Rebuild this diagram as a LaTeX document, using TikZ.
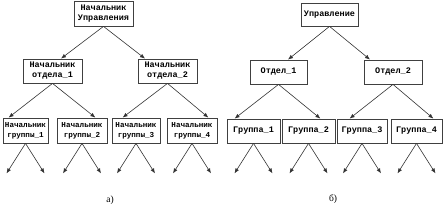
\documentclass[tikz,border=0pt]{standalone}
\usepackage{fontspec}
\setmainfont{Liberation Serif}
\newfontfamily\boxfont[BoldFont={Liberation Mono Bold}]{Liberation Mono}
\usetikzlibrary{arrows.meta}

\tikzset{
  unit/.style={draw=black!75, fill=white, line width=0.8pt, align=center,
    inner sep=1pt, font=\boxfont\bfseries\fontsize{8.5}{10}\selectfont},
  small/.style={font=\boxfont\bfseries\fontsize{7.6}{10}\selectfont},
  link/.style={draw=black!80, line width=0.6pt, -{Latex[length=5pt,width=4pt]}},
}

\begin{document}
\begin{tikzpicture}[x=1pt, y=-1pt]
  \useasboundingbox (0,0) rectangle (447,209);

  % а) — схема с начальниками
  \node[unit, minimum width=59pt, minimum height=25pt] (top) at (103.5,13.5) {Начальник\\Управления};
  \node[unit, minimum width=59pt, minimum height=24pt] (o1) at (52.5,71) {Начальник\\отдела\_1};
  \node[unit, minimum width=59pt, minimum height=24pt] (o2) at (167.5,71) {Начальник\\отдела\_2};

  \node[unit, small, minimum width=45pt, minimum height=25pt] (g1) at (25.5,130.5) {Начальник\\группы\_1};
  \node[unit, small, minimum width=50pt, minimum height=25pt] (g2) at (82,130.5) {Начальник\\группы\_2};
  \node[unit, small, minimum width=48pt, minimum height=25pt] (g3) at (136,130.5) {Начальник\\группы\_3};
  \node[unit, small, minimum width=50pt, minimum height=25pt] (g4) at (192,130.5) {Начальник\\группы\_4};

  \draw[link] (top.south) -- ([xshift=8.5pt]o1.north);
  \draw[link] (top.south) -- ([xshift=-22.5pt]o2.north);
  \draw[link] (o1.south) -- ([xshift=6pt]g1.north west);
  \draw[link] (o1.south) -- ([xshift=-12pt]g2.north east);
  \draw[link] (o2.south) -- ([xshift=11pt]g3.north west);
  \draw[link] (o2.south) -- ([xshift=-9pt]g4.north east);

  % б) — схема с подразделениями
  \node[unit, minimum width=57pt, minimum height=23pt] (top2) at (329.5,14.5) {Управление};
  \node[unit, minimum width=57pt, minimum height=24pt] (p1) at (278.5,72) {Отдел\_1};
  \node[unit, minimum width=58pt, minimum height=24pt] (p2) at (393,72) {Отдел\_2};

  \node[unit, minimum width=53pt, minimum height=24pt] (h1) at (253.5,131) {Группа\_1};
  \node[unit, minimum width=53pt, minimum height=24pt] (h2) at (308.5,131) {Группа\_2};
  \node[unit, minimum width=50pt, minimum height=24pt] (h3) at (362,131) {Группа\_3};
  \node[unit, minimum width=51pt, minimum height=24pt] (h4) at (416.5,131) {Группа\_4};

  \draw[link] (top2.south) -- ([xshift=9.5pt]p1.north);
  \draw[link] (top2.south) -- ([xshift=-23pt]p2.north);
  \draw[link] (p1.south) -- ([xshift=8pt]h1.north west);
  \draw[link] (p1.south) -- ([xshift=-15pt]h2.north east);
  \draw[link] (p2.south) -- ([xshift=13pt]h3.north west);
  \draw[link] (p2.south) -- ([xshift=-9pt]h4.north east);

  % стрелки вниз от групп
  \foreach \g in {g1,g2,g3,g4,h1,h2,h3,h4} {
    \coordinate (\g-l) at ([xshift=-19pt,yshift=-30pt]\g.south);
    \coordinate (\g-r) at ([xshift=19pt,yshift=-30pt]\g.south);
    \draw[link] (\g.south) -- (\g-l);
    \draw[link] (\g.south) -- (\g-r);
  }

  % подписи
  \node[font=\fontsize{9.5}{10}\selectfont] (capa) at (110,200) {а)};
  \node[font=\fontsize{9.5}{10}\selectfont] (capb) at (333,199) {б)};
\end{tikzpicture}
\end{document}
